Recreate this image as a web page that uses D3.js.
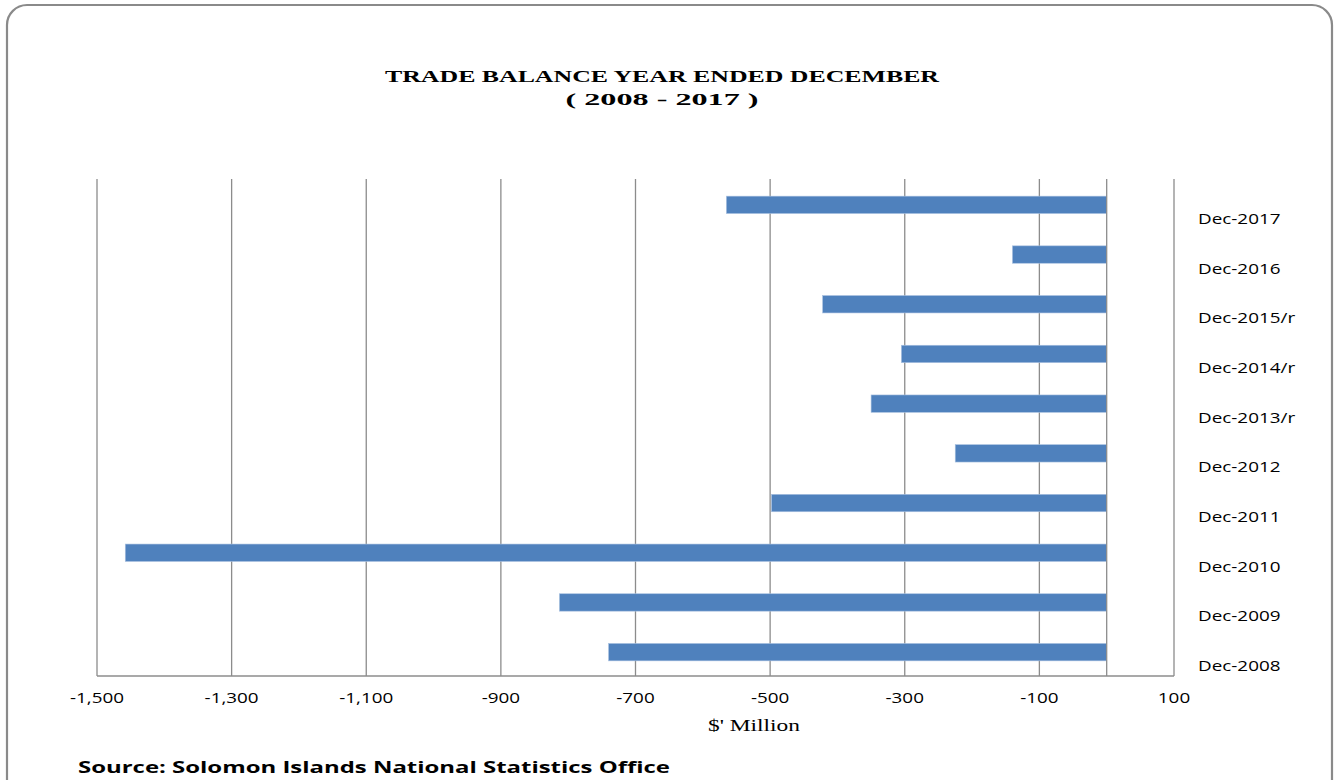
<!DOCTYPE html>
<html>
<head>
<meta charset="utf-8">
<script src="https://cdn.jsdelivr.net/npm/d3@7"></script>
<style>
    html, body { margin: 0; padding: 0; background: #fff; }
    svg { display: block; }
</style>
</head>
<body>
<svg id="chart"></svg>
<script>
// data (top to bottom)
var categories = ['Dec-2017', 'Dec-2016', 'Dec-2015/r', 'Dec-2014/r', 'Dec-2013/r',
    'Dec-2012', 'Dec-2011', 'Dec-2010', 'Dec-2009', 'Dec-2008'];
var balance = [-565, -140, -422, -305, -350, -225, -498, -1458, -813, -740];
var tickValues = [-1500, -1300, -1100, -900, -700, -500, -300, -100, 100];
var titleLines = ['TRADE BALANCE YEAR ENDED DECEMBER', '( 2008 - 2017 )'];
var axisTitle = "$' Million";
var sourceNote = 'Source: Solomon Islands National Statistics Office';

var width = 1335, height = 780;
var plot = { left: 97, right: 1174, top: 179, bottom: 676 };

var svg = d3.select('#chart').attr('width', width).attr('height', height);

// the original text is drawn wide, so stretch each text horizontally
function stretch(sel, factor) {
    sel.each(function () {
        var len = this.getComputedTextLength();
        d3.select(this)
            .attr('textLength', len * factor)
            .attr('lengthAdjust', 'spacingAndGlyphs');
    });
}

// outer rounded frame
svg.append('rect')
    .attr('x', 7).attr('y', 5)
    .attr('width', 1325).attr('height', 800)
    .attr('rx', 20).attr('ry', 20)
    .attr('fill', '#fff')
    .attr('stroke', '#8a8a8a')
    .attr('stroke-width', 2.2);

var x = d3.scaleLinear().domain([-1500, 100]).range([plot.left, plot.right]);
var y = d3.scaleBand().domain(categories).range([plot.top, plot.bottom]).paddingInner(0.65).paddingOuter(0.325);

// vertical gridlines
svg.append('g').attr('class', 'grid')
    .selectAll('line').data(tickValues).enter()
    .append('line')
    .attr('x1', function (d) { return x(d); })
    .attr('x2', function (d) { return x(d); })
    .attr('y1', plot.top).attr('y2', plot.bottom)
    .attr('stroke', '#8c8c8c').attr('stroke-width', 1.3);

// bars
svg.append('g').attr('class', 'bars')
    .selectAll('rect').data(categories).enter()
    .append('rect')
    .attr('x', function (d, i) { return x(balance[i]); })
    .attr('y', function (d) { return y(d) + 1; })
    .attr('width', function (d, i) { return x(0) - x(balance[i]); })
    .attr('height', y.bandwidth())
    .attr('fill', '#4f81bd')
    .attr('stroke', '#a9c1e0')
    .attr('stroke-width', 0.6);

// category axis line at zero + bottom axis line
svg.append('line')
    .attr('x1', x(0)).attr('x2', x(0))
    .attr('y1', plot.top).attr('y2', plot.bottom)
    .attr('stroke', '#8c8c8c').attr('stroke-width', 1.3);
svg.append('line')
    .attr('x1', plot.left).attr('x2', plot.right)
    .attr('y1', plot.bottom).attr('y2', plot.bottom)
    .attr('stroke', '#8c8c8c').attr('stroke-width', 1.3);

// x tick labels
var fmt = d3.format(',');
var ticks = svg.append('g').attr('class', 'x-ticks')
    .selectAll('text').data(tickValues).enter()
    .append('text')
    .attr('x', function (d) { return x(d); })
    .attr('y', 703)
    .attr('text-anchor', 'middle')
    .style('font-family', '"Open Sans", sans-serif')
    .style('font-size', '14.5px')
    .attr('fill', '#000')
    .text(function (d) { return fmt(d).replace('−', '-'); });
stretch(ticks, 1.3);

// category labels (right side, sitting a little below their bars)
var labels = svg.append('g').attr('class', 'y-labels')
    .selectAll('text').data(categories).enter()
    .append('text')
    .attr('x', 1198)
    .attr('y', function (d) { return y(d) + y.bandwidth() / 2 + 20; })
    .style('font-family', '"Open Sans", sans-serif')
    .style('font-size', '14.5px')
    .attr('fill', '#000')
    .text(function (d) { return d; });
stretch(labels, 1.3);

// title
svg.append('g').attr('class', 'title')
    .selectAll('text').data(titleLines).enter()
    .append('text')
    .attr('x', 662)
    .attr('y', function (d, i) { return 82 + i * 23; })
    .attr('text-anchor', 'middle')
    .style('font-family', '"Liberation Serif", "DejaVu Serif", serif')
    .style('font-weight', 'bold')
    .style('font-size', '17px')
    .attr('textLength', function (d, i) { return i === 0 ? 554 : 193; })
    .attr('lengthAdjust', 'spacingAndGlyphs')
    .text(function (d) { return d; });

// axis title
svg.append('text')
    .attr('x', 754).attr('y', 731)
    .attr('text-anchor', 'middle')
    .style('font-family', '"Liberation Serif", serif')
    .style('font-size', '16px')
    .attr('textLength', 92)
    .attr('lengthAdjust', 'spacingAndGlyphs')
    .text(axisTitle);

// source note
var source = svg.append('text')
    .attr('x', 78).attr('y', 773)
    .style('font-family', '"Open Sans", sans-serif')
    .style('font-weight', 'bold')
    .style('font-size', '16px')
    .text(sourceNote);
source.attr('textLength', 592).attr('lengthAdjust', 'spacingAndGlyphs');
</script>
</body>
</html>
